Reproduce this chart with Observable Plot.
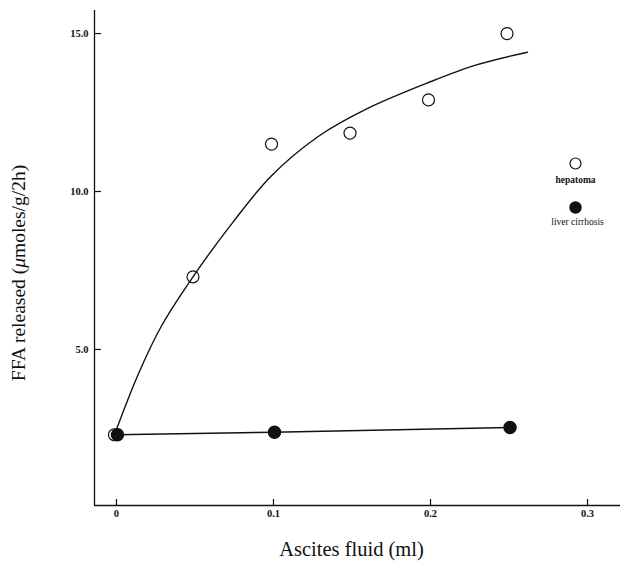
<!DOCTYPE html>
<html>
<head>
<meta charset="utf-8">
<script src="https://cdn.jsdelivr.net/npm/d3@7"></script>
<script src="https://cdn.jsdelivr.net/npm/@observablehq/plot@0.6"></script>
<style>
  html, body { margin: 0; padding: 0; background: #fff; }
  #chart svg { display: block; }
</style>
</head>
<body>
<div id="chart"></div>
<script>
// Ascites fluid volume (ml)
const hepatomaX = [0, 0.05, 0.1, 0.15, 0.2, 0.25];
const hepatomaY = [2.3, 7.3, 11.5, 11.85, 12.9, 15.0];
const cirrhosisX = [0, 0.1, 0.25];
const cirrhosisY = [2.3, 2.38, 2.53];
// hand-drawn fitted curve for hepatoma
const fitX = [0, 0.015, 0.03, 0.05, 0.075, 0.1, 0.13, 0.16, 0.2, 0.23, 0.263];
const fitY = [2.3, 4.2, 5.75, 7.3, 9.0, 10.5, 11.75, 12.6, 13.45, 14.0, 14.41];
const xTicks = [0, 0.1, 0.2, 0.3];
const xTickLabels = ["0", "0.1", "0.2", "0.3"];
const yTicks = [5, 10, 15];
const yTickLabels = ["5.0", "10.0", "15.0"];
const legendLabels = ["hepatoma", "liver cirrhosis"];
const xTitle = "Ascites fluid (ml)";
const yTitle = "FFA released (μmoles/g/2h)";
const xDomain = [-0.014, 0.321];
const yDomain = [0.06, 15.73];

const hepatoma = hepatomaX.map((x, i) => ({x, y: hepatomaY[i]}));
const cirrhosis = cirrhosisX.map((x, i) => ({x, y: cirrhosisY[i]}));
const fit = fitX.map((x, i) => ({x, y: fitY[i]}));

const serif = "'Liberation Serif', 'DejaVu Serif', serif";
const ink = "#111";
const W = 622, H = 562, mL = 94, mR = 2, mT = 10, mB = 57;

const chart = Plot.plot({
  width: W,
  height: H,
  marginLeft: mL,
  marginRight: mR,
  marginTop: mT,
  marginBottom: mB,
  style: {fontFamily: serif, background: "#fff", color: ink},
  x: {domain: xDomain},
  y: {domain: yDomain},
  marks: [
    // axis lines
    Plot.ruleX([xDomain[0]], {stroke: ink, strokeWidth: 1.3}),
    Plot.ruleY([yDomain[0]], {stroke: ink, strokeWidth: 1.3}),
    // inward ticks
    Plot.tickY(yTicks, {y: (d) => d, stroke: ink, strokeWidth: 1.2, insetRight: W - mL - mR - 7}),
    Plot.tickX(xTicks, {x: (d) => d, stroke: ink, strokeWidth: 1.2, insetTop: H - mT - mB - 6}),
    Plot.axisY({
      ticks: yTicks, tickSize: 0, tickPadding: 6,
      tickFormat: (d) => yTickLabels[yTicks.indexOf(d)],
      fontSize: 10.5, fontWeight: "bold", label: null
    }),
    Plot.axisX({
      ticks: xTicks, tickSize: 0, tickPadding: 4,
      tickFormat: (d) => xTickLabels[xTicks.indexOf(d)],
      fontSize: 10.5, fontWeight: "bold", label: null
    }),
    Plot.text([yTitle], {
      text: (d) => d, frameAnchor: "left", rotate: -90, dx: -76, dy: 15,
      fontSize: 19.5, fontFamily: serif, fill: ink, textAnchor: "middle", lineAnchor: "middle"
    }),
    Plot.text([xTitle], {
      text: (d) => d, frameAnchor: "bottom", dx: -6, dy: 44,
      fontSize: 20.5, fontFamily: serif, fill: ink, textAnchor: "middle", lineAnchor: "middle"
    }),
    Plot.line(fit, {x: "x", y: "y", curve: "catmull-rom", stroke: ink, strokeWidth: 1.4, dx: -2}),
    Plot.line(cirrhosis, {x: "x", y: "y", stroke: ink, strokeWidth: 1.4}),
    Plot.dot(cirrhosis, {x: "x", y: "y", r: 6, fill: ink, stroke: ink, dx: 1}),
    Plot.dot(hepatoma, {x: "x", y: "y", r: 6, fill: "none", stroke: ink, strokeWidth: 1.2, dx: -2}),
    // legend
    Plot.dot({length: 1}, {frameAnchor: "top-right", dx: -45, dy: 153, r: 5.5, fill: "#fff", stroke: ink, strokeWidth: 1.2}),
    Plot.text([legendLabels[0]], {text: (d) => d, frameAnchor: "top-right", dx: -45, dy: 169, textAnchor: "middle", lineAnchor: "middle", fontSize: 9.5, fontFamily: serif, fontWeight: "bold", fill: ink}),
    Plot.dot({length: 1}, {frameAnchor: "top-right", dx: -45, dy: 197, r: 5.5, fill: ink, stroke: ink}),
    Plot.text([legendLabels[1]], {text: (d) => d, frameAnchor: "top-right", dx: -43, dy: 211, textAnchor: "middle", lineAnchor: "middle", fontSize: 9.5, fontFamily: serif, fill: ink})
  ]
});
// italic μ in the y title, as in the original typesetting
chart.querySelectorAll("text").forEach((t) => {
  if (t.textContent === yTitle) {
    const [a, b] = yTitle.split("μ");
    t.textContent = "";
    const ns = "http://www.w3.org/2000/svg";
    const s1 = document.createElementNS(ns, "tspan"); s1.textContent = a;
    const s2 = document.createElementNS(ns, "tspan"); s2.textContent = "μ"; s2.setAttribute("font-style", "italic");
    const s3 = document.createElementNS(ns, "tspan"); s3.textContent = b;
    t.append(s1, s2, s3);
  }
});
document.getElementById("chart").append(chart);
</script>
</body>
</html>
